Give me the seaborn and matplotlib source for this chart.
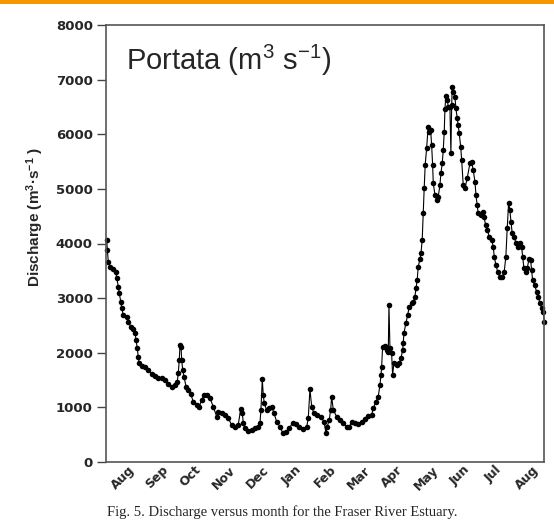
import matplotlib
matplotlib.use("Agg")
import matplotlib.pyplot as plt
from matplotlib.patches import Rectangle
import seaborn as sns
import pandas as pd

# days since start of record (1 Aug)
days = [0.6, 1.2, 2.1, 3.6, 6.6, 8.8, 9.7, 11.1, 12.0, 13.3, 14.2, 15.6, 18.7, 20.1, 22.3, 24.6,
        26.2, 27.1, 28.2, 29.1, 30.0, 32.2, 35.2, 38.2, 41.2, 44.2, 47.2, 50.2, 53.2, 56.2, 59.3,
        62.3, 64.3, 65.2, 66.1, 66.8, 67.7, 68.3, 69.2, 70.4, 72.2, 74.2, 76.4, 78.8, 81.8, 84.2,
        86.3, 88.4, 91.4, 93.8, 96.8, 99.9, 101.3, 104.4, 107.4, 110.3, 113.4, 116.4, 119.3, 121.5,
        123.0, 123.9, 125.4, 128.4, 131.4, 134.4, 137.4, 138.9, 139.8, 141.0, 141.9, 142.8, 145.0,
        147.3, 149.5, 151.6, 154.0, 157.0, 159.4, 162.4, 165.4, 168.4, 171.4, 174.4, 178.0, 181.1,
        182.5, 184.0, 185.6, 187.6, 190.6, 193.7, 196.7, 198.5, 199.6, 201.4, 202.7, 203.6, 205.1,
        208.1, 211.1, 214.1, 217.1, 219.5, 221.6, 224.6, 227.6, 230.7, 233.6, 236.6, 239.7, 241.1,
        243.6, 245.6, 247.2, 248.1, 248.7, 249.6, 251.7, 253.2, 254.7, 255.3, 256.2, 257.7, 258.6,
        259.8, 262.2, 264.6, 266.1, 267.7, 268.2, 268.8, 270.6, 272.2, 273.6, 275.8, 277.2, 278.7,
        279.7, 280.8, 281.7, 283.3, 284.2, 285.3, 286.2, 287.1, 288.0, 289.3, 290.7, 291.6, 292.9,
        293.8, 294.7, 295.3, 296.8, 298.3, 299.8, 301.3, 302.2, 303.4, 304.3, 305.2, 305.8, 306.7,
        307.9, 308.8, 310.3, 311.2, 311.9, 312.4, 313.3, 314.8, 315.7, 316.9, 317.8, 318.7, 320.0,
        320.9, 322.3, 323.9, 325.9, 328.4, 329.9, 331.3, 332.9, 333.8, 334.9, 335.8, 338.0, 339.8,
        341.0, 342.5, 344.0, 345.8, 347.9, 349.4, 350.3, 351.8, 353.4, 355.4, 357.5, 359.3, 360.8,
        362.0, 363.3, 364.4, 365.4, 366.5, 368.3, 369.9, 371.4, 373.5, 375.0, 375.9, 377.1, 378.6,
        380.1, 381.6, 383.1, 384.0, 384.9, 386.7, 388.5, 390.0, 391.5, 393.0, 394.5, 395.4]

discharge = [4066, 3883, 3668, 3577, 3529, 3485, 3364, 3211, 3090, 2936, 2815, 2692, 2650, 2570, 2478, 2430,
             2357, 2234, 2082, 1929, 1808, 1758, 1745, 1685, 1612, 1575, 1533, 1533, 1502, 1429, 1379,
             1410, 1471, 1625, 1868, 2143, 2112, 1868, 1685, 1562, 1379, 1319, 1245, 1104, 1044, 1013,
             1136, 1227, 1227, 1167, 1013, 830, 921, 890, 861, 800, 678, 647, 678, 965,
             892, 709, 617, 573, 586, 617, 647, 709, 952, 1515, 1227, 1075, 952,
             983, 1013, 892, 738, 647, 537, 555, 617, 720, 696, 647, 598, 647,
             800, 1332, 1013, 892, 861, 830, 738, 525, 647, 769, 952, 1196, 952,
             830, 769, 709, 647, 635, 738, 720, 696, 738, 781, 842, 861, 983,
             1104, 1196, 1410, 1593, 1745, 2112, 2130, 2051, 2020, 2875, 2082, 1990, 1593,
             1808, 1777, 1808, 1899, 2051, 2174, 2357, 2540, 2692, 2844, 2906, 2936, 3027,
             3179, 3333, 3577, 3712, 3821, 4066, 4555, 5012, 5440, 5745, 6141, 6050, 6081,
             5806, 5440, 5104, 4890, 4799, 4859, 5073, 5287, 5470, 5714, 6050, 6459, 6703,
             6630, 6508, 6508, 5653, 6538, 6862, 6782, 6691, 6477, 6294, 6172, 6020, 5775,
             5531, 5073, 5012, 5196, 5470, 5500, 5348, 5134, 4890, 4707, 4555, 4524, 4585,
             4493, 4341, 4249, 4127, 4066, 3944, 3761, 3608, 3485, 3382, 3382, 3485, 3761,
             4280, 4750, 4615, 4401, 4188, 4127, 4005, 3944, 4005, 3944, 3761, 3547, 3485,
             3547, 3712, 3700, 3516, 3333, 3242, 3120, 3016, 2918, 2815, 2753, 2570]

months = ["Aug", "Sep", "Oct", "Nov", "Dec", "Jan", "Feb", "Mar", "Apr", "May", "Jun", "Jul", "Aug"]
yticks = [0, 1000, 2000, 3000, 4000, 5000, 6000, 7000, 8000]

df = pd.DataFrame({"day": days, "Q": discharge})

sns.set_style("ticks")
plt.rcParams["font.family"] = ["Liberation Sans", "DejaVu Sans"]
plt.rcParams["mathtext.default"] = "regular"

fig = plt.figure(figsize=(5.54, 5.26), dpi=100)
ax = fig.add_axes([106 / 554, 1 - 462 / 526, (544 - 106) / 554, (462 - 25) / 526])

sns.lineplot(data=df, x="day", y="Q", ax=ax, color="black", linewidth=0.8,
             marker="o", markersize=4, markeredgewidth=0, sort=True, clip_on=False)

month_len = 395.2 / 13
ax.set_xlim(0, 395.2)
ax.set_ylim(0, 8000)
ax.set_xticks([(i + 0.5) * month_len for i in range(13)])
ax.set_xticklabels(months, rotation=45, ha="center", fontsize=9,
                   family=["DejaVu Sans"], fontweight="semibold")
ax.tick_params(axis="x", length=0, pad=1)
ax.set_yticks(yticks)
ax.set_yticklabels([str(v) for v in yticks], fontsize=9.5, family=["DejaVu Sans"],
                   fontweight="semibold")
ax.tick_params(axis="y", length=6.5, width=1, pad=3, color="#444444")
ax.set_xlabel("")
ax.set_ylabel("")
for s in ax.spines.values():
    s.set_color("#555555")
    s.set_linewidth(1.2)

fig.text(35 / 554, 1 - 217 / 526, "Discharge (m$^{3}$·s$^{-1}$ )", rotation=90,
         ha="center", va="center", fontsize=11, fontweight="semibold")

fig.text(126 / 554, 1 - 70 / 526, "Portata (m$^{3}$ s$^{-1}$)", ha="left", va="baseline",
         fontsize=21)

fig.text(107 / 554, 1 - 512 / 526,
         "Fig. 5. Discharge versus month for the Fraser River Estuary.",
         ha="left", va="center", fontsize=10.5, family=["Liberation Serif", "DejaVu Serif"])

fig.patches.append(Rectangle((0, 1 - 4 / 526), 1, 4 / 526, transform=fig.transFigure,
                             facecolor="#F39800", edgecolor="none", zorder=10))

fig.savefig("out.png", dpi=100)
